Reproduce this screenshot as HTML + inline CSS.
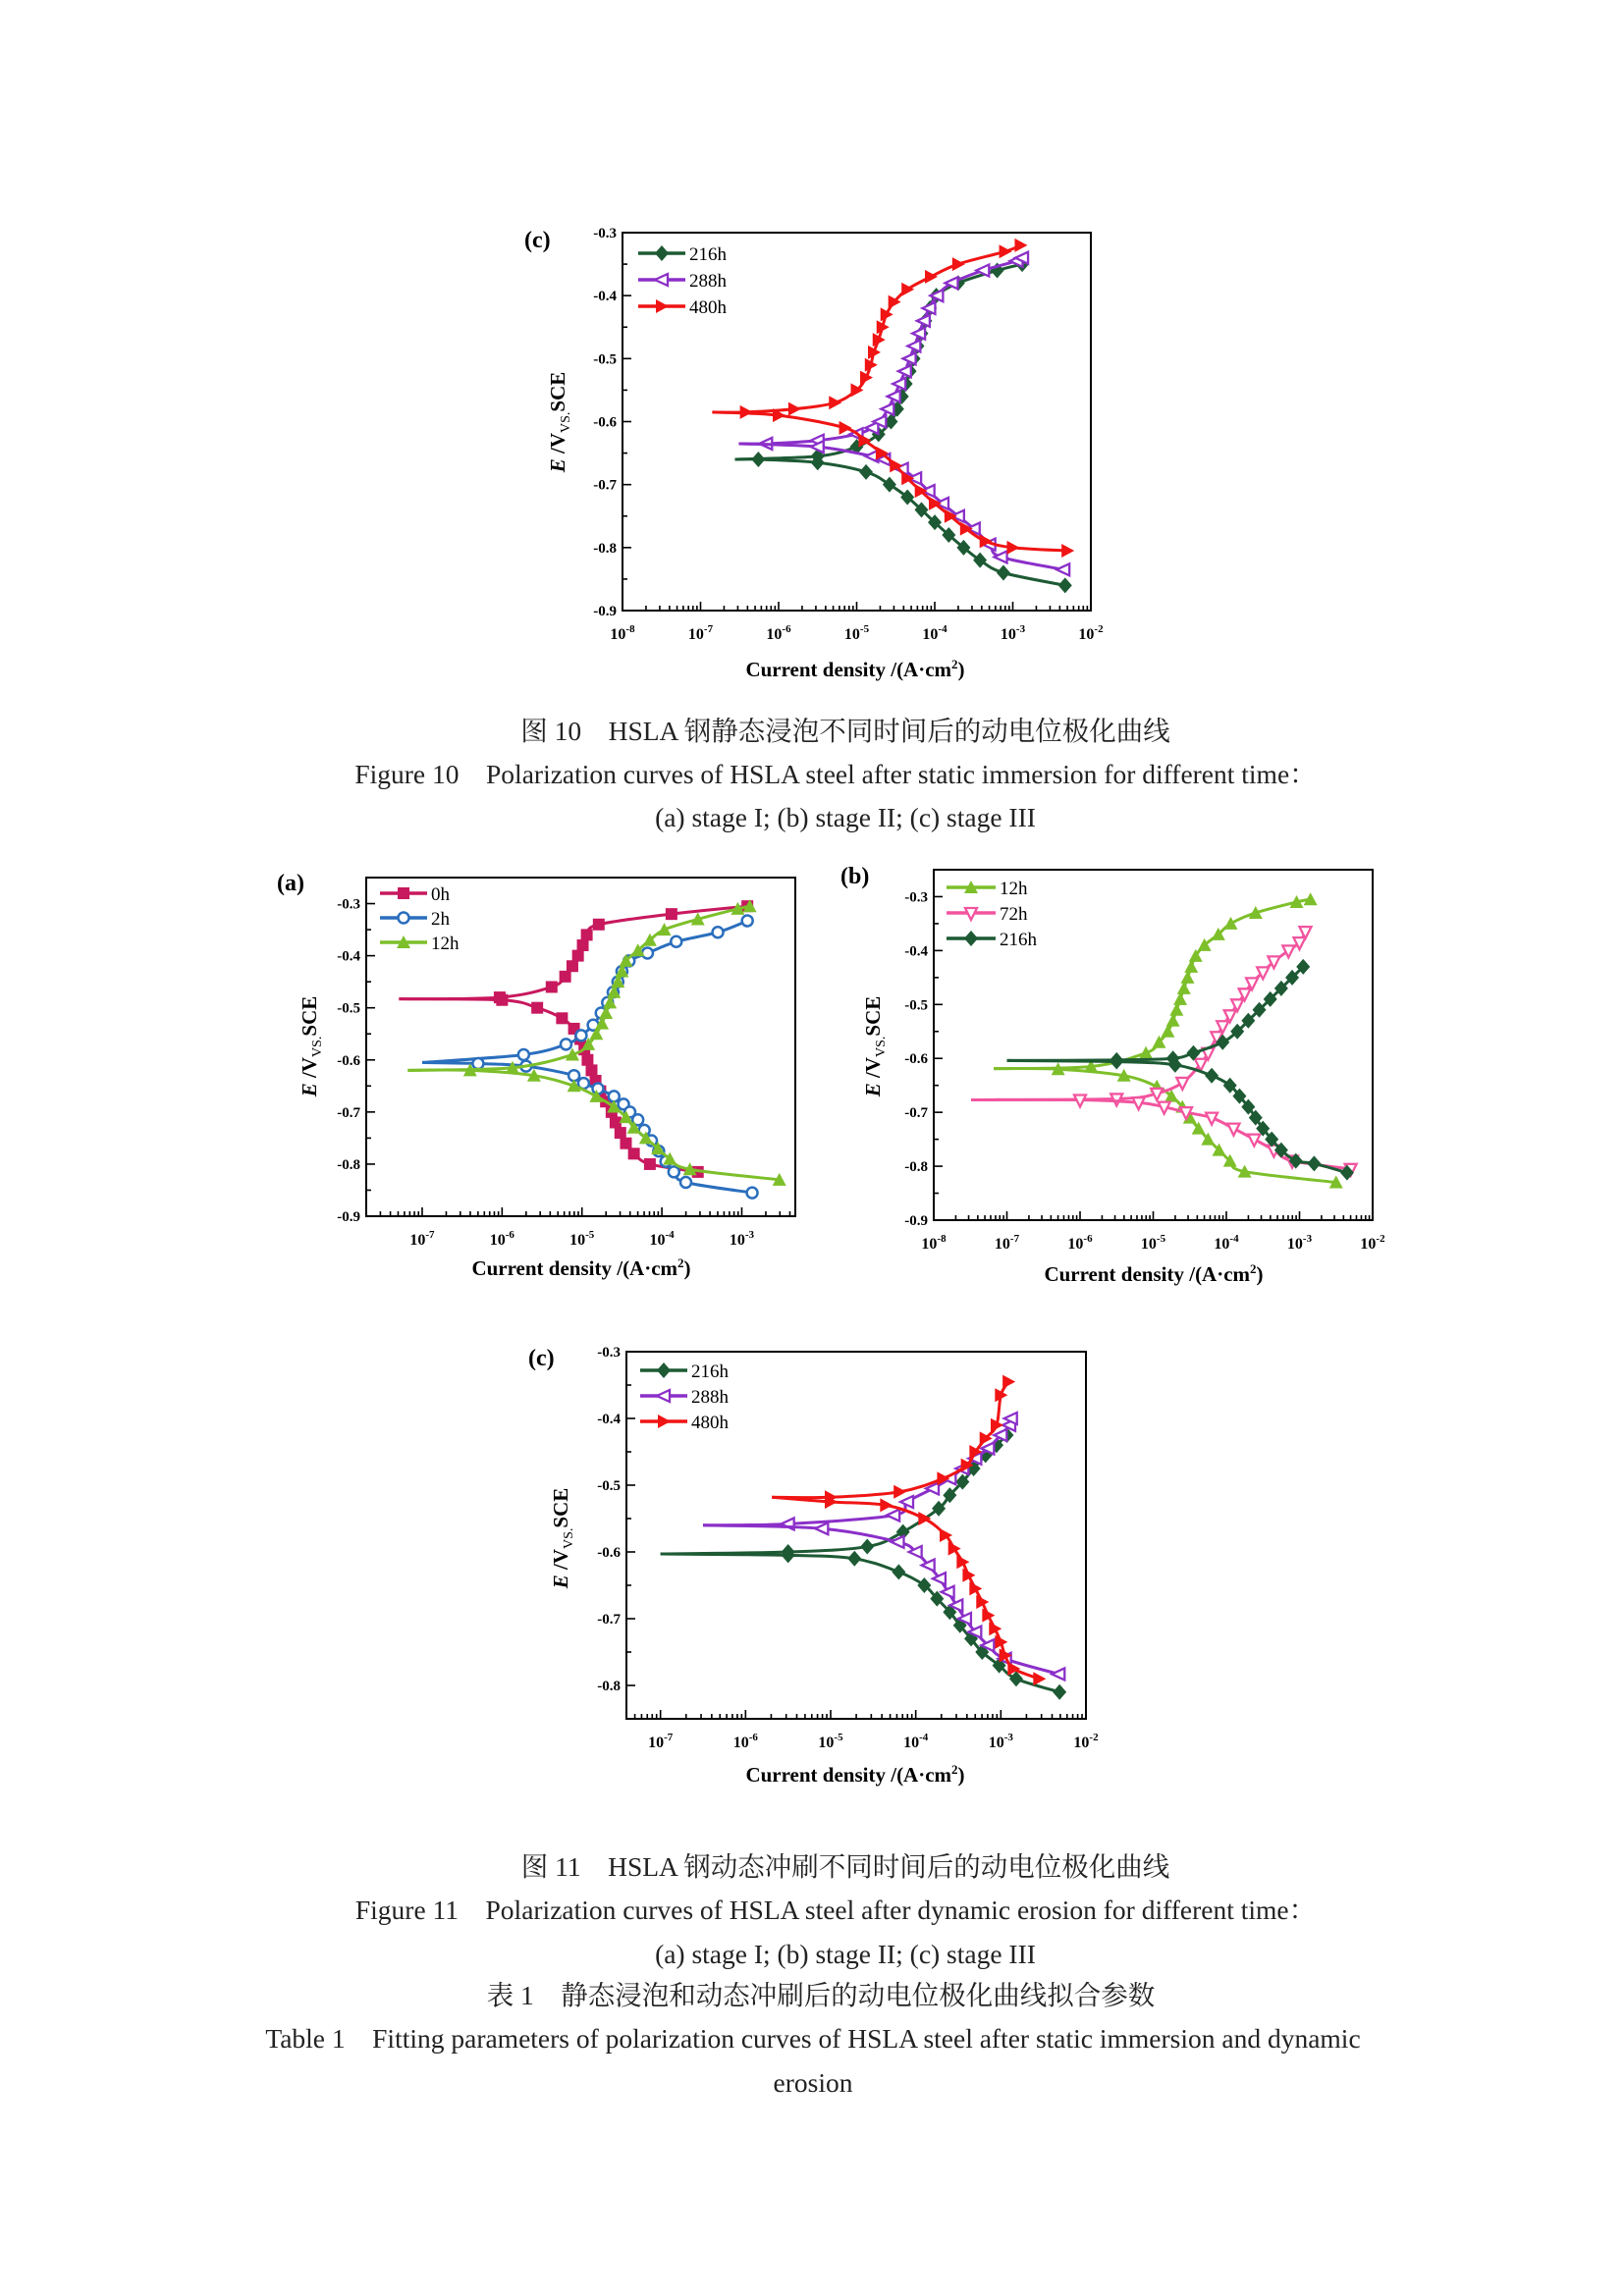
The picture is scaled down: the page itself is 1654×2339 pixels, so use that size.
<!DOCTYPE html>
<html><head><meta charset="utf-8">
<style>
body{margin:0;background:#fff;}
#page{position:relative;width:1654px;height:2339px;background:#fff;overflow:hidden;font-family:"Liberation Serif","Noto Serif CJK SC",serif;}
.cap{position:absolute;width:1200px;text-align:center;font-size:27.5px;color:#222;white-space:nowrap;line-height:30px;}
svg text{font-family:"Liberation Serif",serif;}
</style></head><body>
<div id="page">
<svg id="charts" width="1654" height="2339" style="position:absolute;left:0;top:0"></svg>
<div class="cap" style="left:261px;top:730px">图 10　HSLA 钢静态浸泡不同时间后的动电位极化曲线</div>
<div class="cap" style="left:251px;top:774px">Figure 10　Polarization curves of HSLA steel after static immersion for different time：</div>
<div class="cap" style="left:261px;top:818px">(a) stage I; (b) stage II; (c) stage III</div>
<div class="cap" style="left:261px;top:1887px">图 11　HSLA 钢动态冲刷不同时间后的动电位极化曲线</div>
<div class="cap" style="left:251px;top:1931px">Figure 11　Polarization curves of HSLA steel after dynamic erosion for different time：</div>
<div class="cap" style="left:261px;top:1976px">(a) stage I; (b) stage II; (c) stage III</div>
<div class="cap" style="left:236px;top:2018px">表 1　静态浸泡和动态冲刷后的动电位极化曲线拟合参数</div>
<div class="cap" style="left:228px;top:2062px">Table 1　Fitting parameters of polarization curves of HSLA steel after static immersion and dynamic</div>
<div class="cap" style="left:228px;top:2107px">erosion</div>
</div>
<script>
// ---- data: [log10(current density), E (V)] ----
// Fig10 (c)
const c1_216_an=[[-6.56,-0.66],[-5.5,-0.655],[-5.0,-0.64],[-4.72,-0.62],[-4.56,-0.60],[-4.48,-0.58],[-4.42,-0.56],[-4.37,-0.54],[-4.32,-0.52],[-4.27,-0.50],[-4.22,-0.48],[-4.17,-0.46],[-4.12,-0.44],[-4.06,-0.42],[-3.98,-0.40],[-3.7,-0.38],[-3.2,-0.36],[-2.88,-0.35]];
const c1_216_ca=[[-6.56,-0.66],[-6.26,-0.66],[-5.5,-0.665],[-4.88,-0.68],[-4.58,-0.70],[-4.35,-0.72],[-4.17,-0.74],[-4.0,-0.76],[-3.82,-0.78],[-3.63,-0.80],[-3.42,-0.82],[-3.12,-0.84],[-2.33,-0.86]];
const c1_288_an=[[-6.51,-0.635],[-6.16,-0.635],[-5.5,-0.63],[-5.0,-0.62],[-4.8,-0.61],[-4.7,-0.60],[-4.6,-0.58],[-4.52,-0.56],[-4.45,-0.54],[-4.38,-0.52],[-4.32,-0.50],[-4.26,-0.48],[-4.2,-0.46],[-4.14,-0.44],[-4.07,-0.42],[-3.97,-0.40],[-3.78,-0.38],[-3.38,-0.36],[-2.95,-0.345],[-2.88,-0.34]];
const c1_288_ca=[[-6.51,-0.635],[-5.5,-0.64],[-4.8,-0.655],[-4.65,-0.66],[-4.42,-0.675],[-4.25,-0.69],[-4.08,-0.71],[-3.9,-0.73],[-3.7,-0.75],[-3.5,-0.77],[-3.3,-0.795],[-3.15,-0.815],[-2.35,-0.835]];
const c1_480_an=[[-6.85,-0.585],[-6.42,-0.585],[-5.8,-0.58],[-5.28,-0.57],[-5.0,-0.55],[-4.88,-0.53],[-4.82,-0.51],[-4.78,-0.49],[-4.72,-0.47],[-4.67,-0.45],[-4.62,-0.43],[-4.52,-0.41],[-4.35,-0.39],[-4.05,-0.37],[-3.7,-0.35],[-3.1,-0.33],[-2.9,-0.32]];
const c1_480_ca=[[-6.85,-0.585],[-6.0,-0.59],[-5.15,-0.61],[-4.9,-0.63],[-4.68,-0.65],[-4.5,-0.67],[-4.35,-0.69],[-4.18,-0.71],[-4.0,-0.73],[-3.8,-0.75],[-3.6,-0.77],[-3.35,-0.79],[-3.0,-0.80],[-2.3,-0.805]];
// Fig11 (a)
const a_0_an=[[-7.29,-0.483],[-6.03,-0.48],[-5.38,-0.46],[-5.21,-0.44],[-5.12,-0.42],[-5.05,-0.40],[-4.99,-0.38],[-4.94,-0.36],[-4.79,-0.34],[-3.88,-0.32],[-2.93,-0.305]];
const a_0_ca=[[-7.29,-0.483],[-6.0,-0.485],[-5.56,-0.50],[-5.25,-0.52],[-5.10,-0.54],[-5.02,-0.56],[-4.97,-0.58],[-4.93,-0.60],[-4.88,-0.62],[-4.83,-0.64],[-4.77,-0.66],[-4.7,-0.68],[-4.63,-0.70],[-4.58,-0.72],[-4.52,-0.74],[-4.45,-0.76],[-4.35,-0.78],[-4.15,-0.80],[-3.55,-0.815]];
const a_2_an=[[-7.0,-0.605],[-5.73,-0.59],[-5.2,-0.57],[-5.01,-0.553],[-4.86,-0.533],[-4.76,-0.51],[-4.68,-0.49],[-4.61,-0.47],[-4.55,-0.45],[-4.5,-0.43],[-4.41,-0.41],[-4.18,-0.395],[-3.82,-0.373],[-3.3,-0.355],[-2.93,-0.333]];
const a_2_ca=[[-7.0,-0.605],[-6.3,-0.607],[-5.7,-0.612],[-5.1,-0.63],[-4.98,-0.645],[-4.8,-0.655],[-4.6,-0.67],[-4.48,-0.685],[-4.4,-0.70],[-4.3,-0.715],[-4.22,-0.735],[-4.13,-0.755],[-4.04,-0.775],[-3.95,-0.795],[-3.85,-0.815],[-3.7,-0.835],[-2.87,-0.855]];
const a_12_an=[[-7.18,-0.62],[-5.87,-0.615],[-5.12,-0.59],[-4.92,-0.57],[-4.82,-0.55],[-4.75,-0.53],[-4.7,-0.51],[-4.65,-0.49],[-4.6,-0.47],[-4.55,-0.45],[-4.5,-0.43],[-4.45,-0.41],[-4.3,-0.39],[-4.15,-0.37],[-3.97,-0.35],[-3.55,-0.33],[-3.05,-0.31],[-2.9,-0.305]];
const a_12_ca=[[-7.18,-0.62],[-6.4,-0.62],[-5.6,-0.63],[-5.1,-0.65],[-4.82,-0.67],[-4.6,-0.69],[-4.45,-0.71],[-4.35,-0.73],[-4.2,-0.75],[-4.05,-0.77],[-3.9,-0.79],[-3.65,-0.81],[-2.53,-0.83]];
// Fig11 (b)
const b_12_an=[[-7.18,-0.619],[-5.85,-0.615],[-5.1,-0.59],[-4.92,-0.57],[-4.8,-0.55],[-4.73,-0.53],[-4.68,-0.51],[-4.63,-0.49],[-4.58,-0.47],[-4.53,-0.45],[-4.48,-0.43],[-4.42,-0.41],[-4.3,-0.39],[-4.11,-0.37],[-3.94,-0.35],[-3.6,-0.33],[-3.04,-0.31],[-2.85,-0.305]];
const b_12_ca=[[-7.18,-0.619],[-6.3,-0.62],[-5.4,-0.632],[-4.95,-0.652],[-4.75,-0.67],[-4.6,-0.69],[-4.5,-0.71],[-4.38,-0.73],[-4.25,-0.75],[-4.1,-0.77],[-3.95,-0.79],[-3.75,-0.81],[-2.5,-0.83]];
const b_72_an=[[-7.49,-0.677],[-5.5,-0.675],[-4.95,-0.665],[-4.6,-0.645],[-4.35,-0.61],[-4.25,-0.59],[-4.13,-0.56],[-4.05,-0.54],[-3.95,-0.52],[-3.85,-0.50],[-3.75,-0.48],[-3.65,-0.46],[-3.5,-0.44],[-3.35,-0.42],[-3.15,-0.40],[-3.0,-0.385],[-2.92,-0.365]];
const b_72_ca=[[-7.49,-0.677],[-6.0,-0.677],[-5.2,-0.682],[-4.85,-0.69],[-4.55,-0.70],[-4.2,-0.71],[-3.9,-0.73],[-3.62,-0.75],[-3.35,-0.77],[-3.1,-0.79],[-2.3,-0.805]];
const b_216_an=[[-7.0,-0.604],[-5.5,-0.603],[-4.73,-0.60],[-4.45,-0.59],[-4.05,-0.57],[-3.85,-0.55],[-3.7,-0.53],[-3.55,-0.51],[-3.4,-0.49],[-3.25,-0.47],[-3.1,-0.45],[-2.95,-0.43]];
const b_216_ca=[[-7.0,-0.604],[-5.5,-0.606],[-4.7,-0.612],[-4.2,-0.632],[-3.95,-0.65],[-3.82,-0.67],[-3.7,-0.69],[-3.6,-0.71],[-3.5,-0.73],[-3.38,-0.75],[-3.25,-0.77],[-3.05,-0.79],[-2.8,-0.795],[-2.35,-0.812]];
// Fig11 (c)
const c2_216_an=[[-7.0,-0.603],[-5.5,-0.60],[-4.57,-0.592],[-4.15,-0.57],[-3.73,-0.535],[-3.6,-0.515],[-3.45,-0.495],[-3.32,-0.475],[-3.18,-0.455],[-3.05,-0.44],[-2.93,-0.425]];
const c2_216_ca=[[-7.0,-0.603],[-5.5,-0.605],[-4.72,-0.61],[-4.2,-0.63],[-3.9,-0.65],[-3.75,-0.67],[-3.6,-0.69],[-3.48,-0.71],[-3.35,-0.73],[-3.22,-0.75],[-3.02,-0.77],[-2.82,-0.79],[-2.31,-0.81]];
const c2_288_an=[[-6.5,-0.56],[-5.5,-0.558],[-4.26,-0.545],[-4.1,-0.525],[-3.8,-0.505],[-3.6,-0.49],[-3.45,-0.475],[-3.3,-0.46],[-3.15,-0.445],[-3.0,-0.425],[-2.9,-0.41],[-2.88,-0.40]];
const c2_288_ca=[[-6.5,-0.56],[-5.1,-0.565],[-4.21,-0.585],[-4.0,-0.60],[-3.85,-0.62],[-3.72,-0.64],[-3.62,-0.66],[-3.52,-0.68],[-3.42,-0.70],[-3.3,-0.72],[-3.15,-0.74],[-2.95,-0.76],[-2.32,-0.783]];
const c2_480_an=[[-5.69,-0.518],[-5.0,-0.518],[-4.19,-0.51],[-3.68,-0.49],[-3.4,-0.47],[-3.3,-0.45],[-3.18,-0.43],[-3.05,-0.41],[-3.0,-0.365],[-2.91,-0.345]];
const c2_480_ca=[[-5.69,-0.518],[-5.0,-0.525],[-4.35,-0.53],[-3.9,-0.55],[-3.65,-0.575],[-3.55,-0.595],[-3.45,-0.615],[-3.38,-0.635],[-3.3,-0.655],[-3.22,-0.675],[-3.15,-0.695],[-3.07,-0.715],[-3.0,-0.735],[-2.95,-0.755],[-2.85,-0.775],[-2.55,-0.79]];
// tick labels
const xt_c1=[-8,-7,-6,-5,-4,-3,-2];
const yt_c1=[-0.3,-0.4,-0.5,-0.6,-0.7,-0.8,-0.9];
const xt_a=[-7,-6,-5,-4,-3];
const yt_a=[-0.3,-0.4,-0.5,-0.6,-0.7,-0.8,-0.9];
const xt_b=[-8,-7,-6,-5,-4,-3,-2];
const yt_b=[-0.3,-0.4,-0.5,-0.6,-0.7,-0.8,-0.9];
const xt_c2=[-7,-6,-5,-4,-3,-2];
const yt_c2=[-0.3,-0.4,-0.5,-0.6,-0.7,-0.8];
const lab_c1=['216h','288h','480h'];
const lab_a=['0h','2h','12h'];
const lab_b=['12h','72h','216h'];
const lab_c2=['216h','288h','480h'];

const NS='http://www.w3.org/2000/svg';
const root=document.getElementById('charts');
function mk(tag,attrs,parent){const e=document.createElementNS(NS,tag);for(const k in attrs)e.setAttribute(k,attrs[k]);(parent||root).appendChild(e);return e;}
function smooth(pts){let d='M'+pts[0][0]+','+pts[0][1];for(let i=0;i<pts.length-1;i++){const p0=pts[Math.max(i-1,0)],p1=pts[i],p2=pts[i+1],p3=pts[Math.min(i+2,pts.length-1)];const c1x=p1[0]+(p2[0]-p0[0])/6,c1y=p1[1]+(p2[1]-p0[1])/6,c2x=p2[0]-(p3[0]-p1[0])/6,c2y=p2[1]-(p3[1]-p1[1])/6;d+=' C'+c1x+','+c1y+' '+c2x+','+c2y+' '+p2[0]+','+p2[1];}return d;}
function marker(g,type,color,x,y){const r=7;let e;
 if(type==='diamond'){e=mk('polygon',{points:`${x},${y-r-1} ${x+r},${y} ${x},${y+r+1} ${x-r},${y}`,fill:color},g);}
 else if(type==='square'){e=mk('rect',{x:x-r+1,y:y-r+1,width:2*r-2,height:2*r-2,fill:color},g);}
 else if(type==='circle'){e=mk('circle',{cx:x,cy:y,r:r-1.5,fill:'#fff',stroke:color,'stroke-width':2.5},g);}
 else if(type==='tri-up'){e=mk('polygon',{points:`${x},${y-r} ${x+r},${y+r-1} ${x-r},${y+r-1}`,fill:color},g);}
 else if(type==='tri-down'){e=mk('polygon',{points:`${x-r+1},${y-r+2} ${x+r-1},${y-r+2} ${x},${y+r}`,fill:'#fff',stroke:color,'stroke-width':2.3},g);}
 else if(type==='tri-left'){e=mk('polygon',{points:`${x-r},${y} ${x+r-1},${y-r+1} ${x+r-1},${y+r-1}`,fill:'#fff',stroke:color,'stroke-width':2.3},g);}
 else if(type==='tri-right'){e=mk('polygon',{points:`${x+r},${y} ${x-r+1},${y-r} ${x-r+1},${y+r}`,fill:color},g);}
 
 
}
function chart(cfg){
 const g=mk('g',{});
 
 
 const F=cfg.frame;
 const sx=v=>F.x+(v-cfg.xr[0])/(cfg.xr[1]-cfg.xr[0])*F.w;
 const sy=v=>F.y+(cfg.yr[1]-v)/(cfg.yr[1]-cfg.yr[0])*F.h;
 const ax=mk('g',{},g);
 
 
 for(let d=Math.floor(cfg.xr[0]);d<cfg.xr[1];d++){for(let m=1;m<10;m++){const lv=d+Math.log10(m);if(lv<cfg.xr[0]||lv>cfg.xr[1])continue;const x=sx(lv);mk('line',{x1:x,x2:x,y1:F.y+F.h,y2:F.y+F.h-(m===1?9:5),stroke:'#000','stroke-width':1.6},ax);}}
 cfg.xt.forEach(v=>{const t=mk('text',{x:sx(v),y:F.y+F.h+29,'text-anchor':'middle','font-size':16,'font-weight':'bold'},ax);t.textContent='10';const s=mk('tspan',{dy:-7,'font-size':11},t);s.textContent=String(v);
  
  });
 const ay=mk('g',{},g);
 
 
 for(let v=cfg.yr[0];v<=cfg.yr[1]+1e-9;v+=0.05){const y=sy(v);const major=Math.abs(Math.round(v*10)-v*10)<1e-6;mk('line',{x1:F.x,x2:F.x+(major?9:5),y1:y,y2:y,stroke:'#000','stroke-width':1.6},ay);}
 cfg.yt.forEach(v=>{const t=mk('text',{x:F.x-6,y:sy(v)+5,'text-anchor':'end','font-size':15,'font-weight':'bold'},ay);t.textContent=v.toFixed(1);
  
  });
 const fr=mk('rect',{x:F.x,y:F.y,width:F.w,height:F.h,fill:'none',stroke:'#000','stroke-width':2},g);
 
 
 cfg.series.forEach((s,i)=>{
  const sg=mk('g',{},g);
  
  
  [s.an,s.ca].forEach(arr=>{const pts=arr.map(p=>[sx(p[0]),sy(p[1])]);mk('path',{d:smooth(pts),fill:'none',stroke:s.color,'stroke-width':3},sg);
   pts.slice(1).forEach(p=>marker(sg,s.m,s.color,p[0],p[1]));});
  const L=cfg.leg;const ly=L.y+i*L.dy;
  const lg=mk('g',{},g);
  
  
  mk('line',{x1:L.x,x2:L.x+L.len,y1:ly,y2:ly,stroke:s.color,'stroke-width':3.5},lg);
  marker(lg,s.m,s.color,L.x+L.len/2,ly);
  const t=mk('text',{x:L.x+L.len+4,y:ly+7,'font-size':19},lg);t.textContent=cfg.labels[i];
 });
 const pl=mk('text',{x:cfg.pl[0],y:cfg.pl[1],'font-size':24,'font-weight':'bold'},g);pl.textContent=cfg.plabel;
 
 
 const yt=mk('text',{transform:`translate(${cfg.yt0[0]},${cfg.yt0[1]}) rotate(-90)`,'text-anchor':'middle','font-size':21,'font-weight':'bold'},g);
 yt.innerHTML='<tspan font-style="italic">E</tspan> /V<tspan font-size="14" font-weight="normal" dy="5">VS.</tspan><tspan dy="-5">SCE</tspan>';
 
 
 const xt=mk('text',{x:cfg.xt0[0],y:cfg.xt0[1],'text-anchor':'middle','font-size':21,'font-weight':'bold'},g);
 xt.innerHTML='Current density /(A·cm<tspan font-size="13" dy="-8">2</tspan><tspan dy="8">)</tspan>';
 
 
}
const G='#1d5a34',P='#8b2fc9',R='#f01414',M='#c8185e',B='#2a6ebd',LG='#7dbf2a',PK='#f2549f';
chart({name:'fig10-chart-c',frame:{x:634,y:237,w:477,h:385},xr:[-8,-2],yr:[-0.9,-0.3],xt:xt_c1,yt:yt_c1,labels:lab_c1,
 series:[{an:c1_216_an,ca:c1_216_ca,color:G,m:'diamond'},{an:c1_288_an,ca:c1_288_ca,color:P,m:'tri-left'},{an:c1_480_an,ca:c1_480_ca,color:R,m:'tri-right'}],
 leg:{x:650,y:258,dy:27,len:48},plabel:'(c)',pl:[534,252],yt0:[575,430],xt0:[871,689]});
chart({name:'fig11-chart-a',frame:{x:373,y:894,w:437,h:345},xr:[-7.7,-2.33],yr:[-0.9,-0.25],xt:xt_a,yt:yt_a,labels:lab_a,
 series:[{an:a_0_an,ca:a_0_ca,color:M,m:'square'},{an:a_2_an,ca:a_2_ca,color:B,m:'circle'},{an:a_12_an,ca:a_12_ca,color:LG,m:'tri-up'}],
 leg:{x:387,y:910,dy:25,len:48},plabel:'(a)',pl:[282,907],yt0:[322,1066],xt0:[592,1299]});
chart({name:'fig11-chart-b',frame:{x:951,y:886,w:447,h:357},xr:[-8,-2],yr:[-0.9,-0.25],xt:xt_b,yt:yt_b,labels:lab_b,
 series:[{an:b_12_an,ca:b_12_ca,color:LG,m:'tri-up'},{an:b_72_an,ca:b_72_ca,color:PK,m:'tri-down'},{an:b_216_an,ca:b_216_ca,color:G,m:'diamond'}],
 leg:{x:964,y:904,dy:26,len:50},plabel:'(b)',pl:[856,900],yt0:[896,1066],xt0:[1175,1305]});
chart({name:'fig11-chart-c',frame:{x:638,y:1377,w:468,h:374},xr:[-7.4,-2],yr:[-0.85,-0.3],xt:xt_c2,yt:yt_c2,labels:lab_c2,
 series:[{an:c2_216_an,ca:c2_216_ca,color:G,m:'diamond'},{an:c2_288_an,ca:c2_288_ca,color:P,m:'tri-left'},{an:c2_480_an,ca:c2_480_ca,color:R,m:'tri-right'}],
 leg:{x:652,y:1396,dy:26,len:48},plabel:'(c)',pl:[538,1391],yt0:[578,1567],xt0:[871,1815]});
</script>
</body></html>
